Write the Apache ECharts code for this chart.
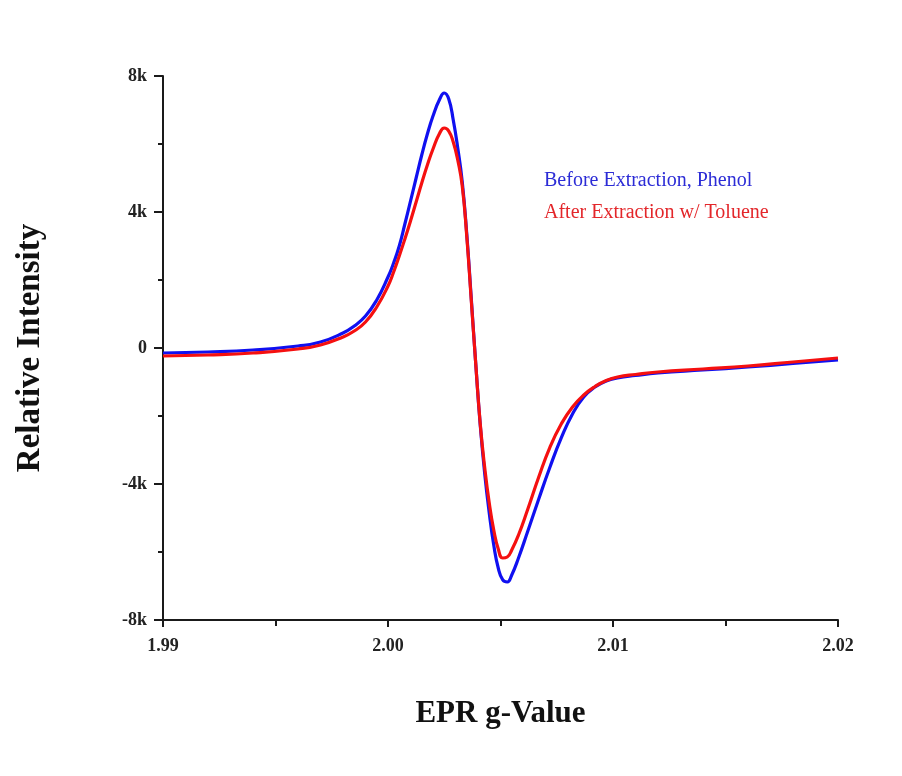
<!DOCTYPE html>
<html>
<head>
<meta charset="utf-8">
<script src="https://cdn.jsdelivr.net/npm/echarts@6/dist/echarts.min.js"></script>
<style>html,body{margin:0;padding:0;background:#fff}#c{width:902px;height:776px}</style>
</head>
<body>
<div id="c"></div>
<script>
// EPR g-values (x)
var gValues = [1.99, 1.992, 1.994, 1.996, 1.997, 1.998, 1.9985, 1.999, 1.9995, 2.0, 2.00025, 2.0005, 2.00075, 2.001, 2.00125, 2.0015, 2.00175, 2.002, 2.0023, 2.0025, 2.0027, 2.0029, 2.0031, 2.0033, 2.0035, 2.0037, 2.0039, 2.0041, 2.0043, 2.0045, 2.0047, 2.0049, 2.0051, 2.0053, 2.0055, 2.0058, 2.0062, 2.0067, 2.0072, 2.0077, 2.0082, 2.0087, 2.0092, 2.0097, 2.0102, 2.011, 2.012, 2.014, 2.016, 2.018, 2.02];
// Before Extraction, Phenol (blue)
var beforeValues = [-147, -118, -59, 59, 176, 441, 647, 941, 1412, 2088, 2500, 3000, 3647, 4323, 5000, 5676, 6294, 6823, 7323, 7500, 7323, 6706, 5882, 4882, 3353, 1470, -470, -2265, -3706, -4853, -5794, -6470, -6823, -6882, -6676, -6176, -5412, -4441, -3500, -2647, -1941, -1441, -1147, -971, -882, -809, -735, -647, -559, -456, -353];
// After Extraction w/ Toluene (red)
var afterValues = [-235, -206, -147, -29, 88, 324, 500, 765, 1206, 1823, 2235, 2706, 3206, 3735, 4294, 4853, 5382, 5853, 6323, 6470, 6382, 6058, 5529, 4764, 3294, 1412, -470, -2235, -3529, -4559, -5353, -5911, -6176, -6147, -5941, -5500, -4765, -3794, -2912, -2235, -1735, -1382, -1132, -956, -853, -779, -706, -618, -529, -412, -294];
var seriesNames = ['Before Extraction, Phenol', 'After Extraction w/ Toluene'];
var yTicks = {'-8000': '-8k', '-4000': '-4k', '0': '0', '4000': '4k', '8000': '8k'};

function pairs(xs, ys) { return xs.map(function (x, i) { return [x, ys[i]]; }); }

var serif = 'Liberation Serif';
var chart = echarts.init(document.getElementById('c'), null, {renderer: 'canvas'});
chart.setOption({
  animation: false,
  backgroundColor: '#fff',
  grid: {left: 163, right: 64, top: 76, bottom: 156, containLabel: false},
  legend: {
    orient: 'vertical', left: 534, top: 166, itemWidth: 0, itemHeight: 10, itemGap: 12,
    selectedMode: false,
    textStyle: {fontFamily: serif, fontSize: 20},
    data: [
      {name: seriesNames[0], icon: 'none', textStyle: {color: '#2c2cd6'}},
      {name: seriesNames[1], icon: 'none', textStyle: {color: '#e3262a'}}
    ]
  },
  xAxis: {
    type: 'value', min: 1.99, max: 2.02, interval: 0.01,
    name: 'EPR g-Value', nameLocation: 'middle', nameGap: 78,
    nameTextStyle: {fontFamily: serif, fontSize: 31, fontWeight: 'bold', color: '#111'},
    axisLine: {show: true, onZero: false, lineStyle: {color: '#1a1a1a', width: 2}},
    axisTick: {show: true, inside: false, length: 7, lineStyle: {color: '#1a1a1a', width: 2}},
    minorTick: {show: true, splitNumber: 2, length: 6, lineStyle: {color: '#1a1a1a', width: 2}},
    splitLine: {show: false},
    axisLabel: {fontFamily: serif, fontSize: 18, fontWeight: 'bold', color: '#222', margin: 17,
      formatter: function (v) { return v.toFixed(2); }}
  },
  yAxis: {
    type: 'value', min: -8000, max: 8000, interval: 4000,
    name: 'Relative Intensity', nameLocation: 'middle', nameGap: 116,
    nameTextStyle: {fontFamily: serif, fontSize: 33, fontWeight: 'bold', color: '#111'},
    axisLine: {show: true, onZero: false, lineStyle: {color: '#1a1a1a', width: 2}},
    axisTick: {show: true, inside: false, length: 9, lineStyle: {color: '#1a1a1a', width: 2}},
    minorTick: {show: true, splitNumber: 2, length: 5, lineStyle: {color: '#1a1a1a', width: 2}},
    splitLine: {show: false},
    axisLabel: {fontFamily: serif, fontSize: 18, fontWeight: 'bold', color: '#222', margin: 16,
      formatter: function (v) { return yTicks[String(v)] !== undefined ? yTicks[String(v)] : v; }}
  },
  series: [
    {name: seriesNames[0], type: 'line', data: pairs(gValues, beforeValues), showSymbol: false,
      smooth: 0.5, lineStyle: {color: '#1010f0', width: 3.2}, itemStyle: {color: '#1010f0'}, z: 2},
    {name: seriesNames[1], type: 'line', data: pairs(gValues, afterValues), showSymbol: false,
      smooth: 0.5, lineStyle: {color: '#f51010', width: 3.2}, itemStyle: {color: '#f51010'}, z: 3}
  ]
});
</script>
</body>
</html>
